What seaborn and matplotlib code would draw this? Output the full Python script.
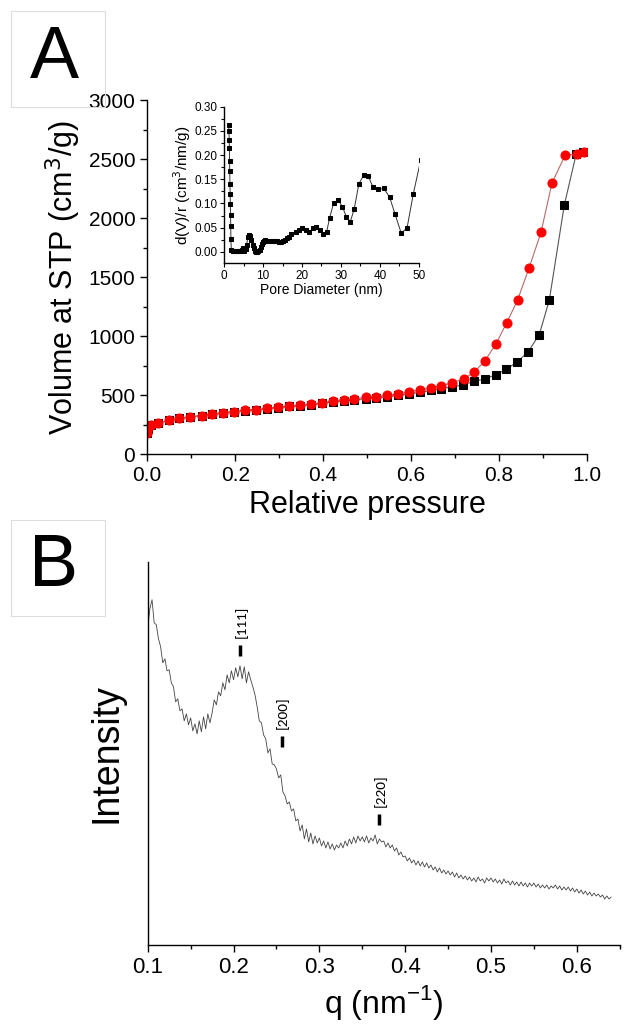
import numpy as np
import matplotlib.pyplot as plt
import seaborn as sns
from matplotlib.patches import Rectangle
from matplotlib.ticker import MultipleLocator

# --- N2 isotherm (panel A) ---
p_ads = [0.0, 0.003, 0.008, 0.025, 0.05, 0.073, 0.098, 0.124, 0.148, 0.173, 0.198,
         0.223, 0.248, 0.273, 0.298, 0.323, 0.348, 0.373, 0.398, 0.423, 0.447,
         0.47, 0.497, 0.52, 0.545, 0.57, 0.595, 0.62, 0.646, 0.668, 0.693, 0.718,
         0.742, 0.767, 0.792, 0.816, 0.841, 0.866, 0.891, 0.914, 0.948, 0.975, 0.99]
v_ads = [175, 215, 245, 263, 285, 302, 316, 327, 339, 350, 360,
         369, 377, 385, 395, 404, 412, 420, 430, 445, 452,
         460, 470, 478, 486, 497, 510, 525, 540, 556, 568, 587,
         616, 638, 672, 720, 780, 870, 1011, 1308, 2113, 2545, 2565]
p_des = [0.0, 0.003, 0.008, 0.025, 0.05, 0.073, 0.098, 0.124, 0.148, 0.173, 0.198,
         0.223, 0.248, 0.273, 0.298, 0.323, 0.348, 0.373, 0.398, 0.423, 0.447,
         0.47, 0.497, 0.52, 0.545, 0.57, 0.595, 0.62, 0.646, 0.668, 0.693, 0.719,
         0.743, 0.768, 0.793, 0.817, 0.842, 0.868, 0.895, 0.92, 0.95, 0.976, 0.992]
v_des = [180, 220, 250, 263, 285, 302, 316, 327, 339, 350, 361,
         370, 378, 387, 398, 407, 415, 424, 435, 452, 460,
         469, 480, 488, 497, 511, 528, 545, 562, 581, 604, 638,
         695, 793, 937, 1113, 1308, 1580, 1880, 2300, 2536, 2545, 2565]

# --- pore size distribution (inset) ---
pore_d = [1.2, 1.25, 1.3, 1.35, 1.4, 1.45, 1.5, 1.55, 1.6, 1.65, 1.7, 1.75, 1.85,
          2.2, 2.6, 3.0, 3.4, 3.8, 4.2, 4.6, 4.9, 5.2, 5.5, 5.8, 6.1, 6.4, 6.7,
          7.0, 7.3, 7.6, 7.9, 8.2, 8.5, 8.8, 9.1, 9.4, 9.7, 10.0, 10.3, 10.6,
          11.0, 11.5, 12.0, 12.5, 13.0, 13.5, 14.0, 14.5, 15.0, 15.6, 16.1,
          16.6, 17.3, 18.4, 19.3, 20.1, 21.0, 21.8, 22.9, 23.7, 24.6, 25.4,
          26.3, 27.1, 28.1, 29.3, 30.4, 31.4, 32.4, 33.4, 34.6, 35.8, 37.0,
          38.2, 39.6, 41.0, 42.5, 43.9, 45.5, 47.0, 48.6, 50.5]
dvr = [0.262, 0.250, 0.230, 0.215, 0.187, 0.166, 0.140, 0.119, 0.098, 0.077,
       0.053, 0.026, 0.003, 0.002, 0.001, 0.001, 0.001, 0.001, 0.002, 0.003,
       0.008, 0.002, 0.005, 0.015, 0.030, 0.034, 0.032, 0.024, 0.015, 0.007,
       0.002, 0.000, 0.000, 0.001, 0.004, 0.010, 0.016, 0.020, 0.023, 0.024,
       0.023, 0.023, 0.022, 0.023, 0.022, 0.022, 0.021, 0.021, 0.022, 0.025,
       0.028, 0.031, 0.037, 0.040, 0.045, 0.050, 0.045, 0.040, 0.050, 0.052,
       0.046, 0.036, 0.040, 0.070, 0.100, 0.107, 0.093, 0.072, 0.062, 0.088,
       0.140, 0.158, 0.157, 0.134, 0.129, 0.131, 0.113, 0.078, 0.038, 0.050,
       0.120, 0.190]

# --- SAXS (panel B) ---
q = np.linspace(0.1, 0.64, 217)
intensity = [
    318, 336, 345, 322, 320, 306, 298, 282, 286, 274,
    275, 262, 258, 243, 246, 234, 236, 224, 231, 220,
    227, 214, 221, 211, 224, 213, 228, 216, 231, 222,
    232, 245, 240, 253, 249, 262, 255, 270, 262, 274,
    265, 277, 268, 279, 266, 278, 262, 273, 265, 258,
    250, 238, 224, 222, 210, 206, 192, 196, 181, 180,
    176, 167, 170, 153, 149, 141, 143, 134, 136, 124,
    126, 114, 120, 106, 116, 103, 112, 101, 109, 102,
    107, 99, 104, 97, 103, 96, 101, 95, 100, 97,
    102, 97, 104, 99, 106, 101, 108, 102, 109, 104,
    108, 103, 109, 102, 107, 104, 110, 101, 106, 103,
    104, 98, 102, 97, 100, 94, 97, 90, 93, 88,
    89, 84, 87, 82, 85, 80, 84, 79, 83, 78,
    82, 77, 80, 75, 78, 73, 77, 72, 75, 71,
    74, 70, 73, 68, 72, 67, 70, 66, 69, 65,
    68, 64, 67, 63, 68, 64, 66, 62, 67, 64,
    67, 63, 66, 62, 65, 61, 66, 62, 64, 60,
    64, 60, 63, 59, 63, 59, 62, 58, 62, 59,
    62, 58, 61, 57, 60, 57, 60, 56, 59, 57,
    60, 56, 59, 55, 58, 55, 58, 54, 57, 53,
    56, 52, 55, 51, 54, 50, 53, 49, 52, 49,
    51, 48, 50, 46, 49, 46, 48]
peak_q = [0.2076, 0.256, 0.3696]
peak_labels = ['[111]', '[200]', '[220]']
peak_low = [289, 198, 120]

sns.set_style('ticks')
plt.rcParams['font.family'] = ['Liberation Sans', 'DejaVu Sans']
plt.rcParams.update({'axes.linewidth': 1.0, 'text.color': 'black',
                     'axes.labelcolor': 'black', 'xtick.color': 'black',
                     'ytick.color': 'black', 'axes.edgecolor': 'black'})

fig = plt.figure(figsize=(6.26, 10.25), dpi=100)

# panel A
ax = fig.add_axes([0.235, 0.557, 0.703, 0.345])
sns.lineplot(x=p_ads, y=v_ads, ax=ax, color='#555555', lw=0.8, marker='s',
             markersize=6, markerfacecolor='black', markeredgecolor='black',
             sort=False, estimator=None)
sns.lineplot(x=p_des, y=v_des, ax=ax, color='#b86a6a', lw=0.8, marker='o',
             markersize=6.5, markerfacecolor='red', markeredgecolor='red',
             sort=False, estimator=None)
ax.set_xlim(0, 1.0)
ax.set_ylim(0, 3000)
ax.xaxis.set_major_locator(MultipleLocator(0.2))
ax.xaxis.set_minor_locator(MultipleLocator(0.1))
ax.yaxis.set_major_locator(MultipleLocator(500))
ax.yaxis.set_minor_locator(MultipleLocator(250))
ax.tick_params(which='major', length=5, width=1, labelsize=15)
ax.tick_params(which='minor', length=3, width=1)
ax.set_xlabel('Relative pressure', fontsize=22)
ax.set_ylabel('Volume at STP (cm$^3$/g)', fontsize=22, labelpad=4)
sns.despine(ax=ax)

# inset
ins = fig.add_axes([0.358, 0.743, 0.311, 0.153])
sns.lineplot(x=pore_d, y=dvr, ax=ins, color='#333333', lw=0.7, marker='s',
             markersize=3.2, markerfacecolor='black', markeredgecolor='black',
             sort=False, estimator=None)
ins.set_xlim(0, 50)
ins.set_ylim(-0.024, 0.30)
ins.xaxis.set_major_locator(MultipleLocator(10))
ins.xaxis.set_minor_locator(MultipleLocator(5))
ins.set_yticks([0.0, 0.05, 0.10, 0.15, 0.20, 0.25, 0.30])
ins.yaxis.set_minor_locator(MultipleLocator(0.025))
ins.tick_params(which='major', length=3, width=0.8, labelsize=8.5, pad=1.5)
ins.tick_params(which='minor', length=2, width=0.8)
ins.set_xlabel('Pore Diameter (nm)', fontsize=10, labelpad=1)
ins.set_ylabel('d(V)/r (cm$^3$/nm/g)', fontsize=11, labelpad=1)
ins.patch.set_alpha(0)
sns.despine(ax=ins)

# panel B
bx = fig.add_axes([0.236, 0.078, 0.754, 0.374])
sns.lineplot(x=q, y=intensity, ax=bx, color='#444444', lw=0.6,
             sort=False, estimator=None)
for pq, lab, lo in zip(peak_q, peak_labels, peak_low):
    bx.vlines(pq, lo, lo + 11, color='black', lw=2.5)
    bx.text(pq + 0.001, lo + 18, lab, rotation=90, ha='center', va='bottom',
            fontsize=11, family=['Carlito', 'Liberation Sans', 'DejaVu Sans'])
bx.set_xlim(0.1, 0.65)
bx.set_ylim(0, 383)
bx.set_yticks([])
bx.xaxis.set_major_locator(MultipleLocator(0.1))
bx.xaxis.set_minor_locator(MultipleLocator(0.05))
bx.tick_params(which='major', length=5, width=1, labelsize=16)
bx.tick_params(which='minor', length=3, width=1)
bx.set_xlabel('q (nm$^{\\mathregular{-1}}$)', fontsize=23)
bx.set_ylabel('Intensity', fontsize=27, labelpad=17)
sns.despine(ax=bx)

# panel letters in light boxes
for lab, ytop, ycen in [('A', 11, 58), ('B', 520, 567)]:
    fig.patches.append(Rectangle((11 / 626, 1 - (ytop + 96) / 1025), 94 / 626,
                                 96 / 1025, transform=fig.transFigure,
                                 fill=False, ec='#dddddd', lw=0.8))
    fig.text(54 / 626, 1 - ycen / 1025, lab, fontsize=53, ha='center',
             va='center')

fig.savefig('out.png', dpi=100)
